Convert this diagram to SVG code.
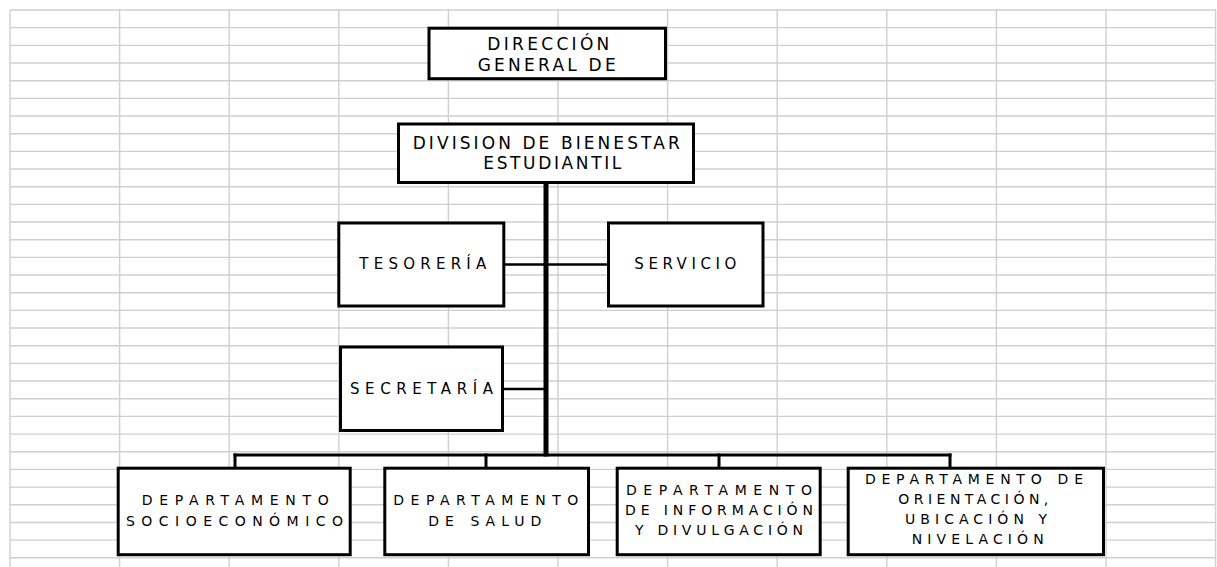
<svg xmlns="http://www.w3.org/2000/svg" width="1217" height="567" viewBox="0 0 1217 567">
<defs>
<style>
.grid line{stroke:#cfcfcf;stroke-width:1.4}
.box{fill:#fff;stroke:#000;stroke-width:3}
.t{font-family:"DejaVu Sans","Liberation Sans",sans-serif;fill:#000}
.big{font-size:17px}
.mid{font-size:15px}
.sm{font-size:14px}
.con line{stroke:#000;stroke-linecap:square}
</style>
</defs>
<rect x="0" y="0" width="1217" height="567" fill="#fff"/>
<g class="grid" id="grid">
<line x1="10" y1="10" x2="10" y2="567"/><line x1="119.6" y1="10" x2="119.6" y2="567"/><line x1="229.2" y1="10" x2="229.2" y2="567"/><line x1="338.8" y1="10" x2="338.8" y2="567"/><line x1="448.4" y1="10" x2="448.4" y2="567"/><line x1="558" y1="10" x2="558" y2="567"/><line x1="667.6" y1="10" x2="667.6" y2="567"/><line x1="777.2" y1="10" x2="777.2" y2="567"/><line x1="886.8" y1="10" x2="886.8" y2="567"/><line x1="996.4" y1="10" x2="996.4" y2="567"/><line x1="1106" y1="10" x2="1106" y2="567"/><line x1="1215.6" y1="10" x2="1215.6" y2="567"/>
<line x1="10" y1="10" x2="1216" y2="10"/><line x1="10" y1="27.67" x2="1216" y2="27.67"/><line x1="10" y1="45.34" x2="1216" y2="45.34"/><line x1="10" y1="63.01" x2="1216" y2="63.01"/><line x1="10" y1="80.68" x2="1216" y2="80.68"/><line x1="10" y1="98.35" x2="1216" y2="98.35"/><line x1="10" y1="116.02" x2="1216" y2="116.02"/><line x1="10" y1="133.69" x2="1216" y2="133.69"/><line x1="10" y1="151.36" x2="1216" y2="151.36"/><line x1="10" y1="169.03" x2="1216" y2="169.03"/><line x1="10" y1="186.7" x2="1216" y2="186.7"/><line x1="10" y1="204.37" x2="1216" y2="204.37"/><line x1="10" y1="222.04" x2="1216" y2="222.04"/><line x1="10" y1="239.71" x2="1216" y2="239.71"/><line x1="10" y1="257.38" x2="1216" y2="257.38"/><line x1="10" y1="275.05" x2="1216" y2="275.05"/><line x1="10" y1="292.72" x2="1216" y2="292.72"/><line x1="10" y1="310.39" x2="1216" y2="310.39"/><line x1="10" y1="328.06" x2="1216" y2="328.06"/><line x1="10" y1="345.73" x2="1216" y2="345.73"/><line x1="10" y1="363.4" x2="1216" y2="363.4"/><line x1="10" y1="381.07" x2="1216" y2="381.07"/><line x1="10" y1="398.74" x2="1216" y2="398.74"/><line x1="10" y1="416.41" x2="1216" y2="416.41"/><line x1="10" y1="434.08" x2="1216" y2="434.08"/><line x1="10" y1="451.75" x2="1216" y2="451.75"/><line x1="10" y1="469.42" x2="1216" y2="469.42"/><line x1="10" y1="487.09" x2="1216" y2="487.09"/><line x1="10" y1="504.76" x2="1216" y2="504.76"/><line x1="10" y1="522.43" x2="1216" y2="522.43"/><line x1="10" y1="540.1" x2="1216" y2="540.1"/><line x1="10" y1="557.77" x2="1216" y2="557.77"/>
</g>
<g class="con" id="connectors">
<line x1="546" y1="184" x2="546" y2="454" stroke-width="5"/>
<line x1="505" y1="264.5" x2="607" y2="264.5" stroke-width="2.5"/>
<line x1="504" y1="389" x2="546" y2="389" stroke-width="2.5"/>
<line x1="235" y1="455" x2="950" y2="455" stroke-width="3"/>
<line x1="235" y1="455" x2="235" y2="467" stroke-width="3"/>
<line x1="486" y1="455" x2="486" y2="467" stroke-width="3"/>
<line x1="719" y1="455" x2="719" y2="467" stroke-width="3"/>
<line x1="950" y1="455" x2="950" y2="467" stroke-width="3"/>
</g>
<g id="direccion">
<rect class="box" x="429" y="28.2" width="236.5" height="50.5" stroke-width="3.5"/>
<text class="t big" x="487.3" y="50" textLength="122" lengthAdjust="spacing">DIRECCIÓN</text>
<text class="t big" x="477.7" y="71" textLength="138" lengthAdjust="spacing">GENERAL DE</text>
</g>
<g id="division">
<rect class="box" x="398.5" y="124" width="295" height="58.5" stroke-width="3.5"/>
<text class="t big" x="412.7" y="148.5" textLength="267" lengthAdjust="spacing">DIVISION DE BIENESTAR</text>
<text class="t big" x="483.3" y="168.5" textLength="138" lengthAdjust="spacing">ESTUDIANTIL</text>
</g>
<g id="tesoreria">
<rect class="box" x="338.8" y="223" width="165" height="83"/>
<text class="t mid" x="359.3" y="269" textLength="127" lengthAdjust="spacing">TESORERÍA</text>
</g>
<g id="servicio">
<rect class="box" x="608.5" y="223" width="154.5" height="83"/>
<text class="t mid" x="634.3" y="269" textLength="102" lengthAdjust="spacing">SERVICIO</text>
</g>
<g id="secretaria">
<rect class="box" x="340.5" y="347" width="162" height="83.5"/>
<text class="t mid" x="350" y="394" textLength="143" lengthAdjust="spacing">SECRETARÍA</text>
</g>
<g id="socioeconomico">
<rect class="box" x="118.2" y="468.2" width="232" height="86.5"/>
<text class="t sm" x="141.7" y="505" textLength="187" lengthAdjust="spacing">DEPARTAMENTO</text>
<text class="t sm" x="126" y="526" textLength="217" lengthAdjust="spacing">SOCIOECONÓMICO</text>
</g>
<g id="salud">
<rect class="box" x="384.8" y="468.2" width="203.7" height="86.5"/>
<text class="t sm" x="393.3" y="505" textLength="185" lengthAdjust="spacing">DEPARTAMENTO</text>
<text class="t sm" x="428.3" y="526" textLength="113" lengthAdjust="spacing">DE SALUD</text>
</g>
<g id="informacion">
<rect class="box" x="617.2" y="468.2" width="203" height="86.5"/>
<text class="t sm" x="626" y="495" textLength="186" lengthAdjust="spacing">DEPARTAMENTO</text>
<text class="t sm" x="625" y="514.5" textLength="188" lengthAdjust="spacing">DE INFORMACIÓN</text>
<text class="t sm" x="635" y="535" textLength="168" lengthAdjust="spacing">Y DIVULGACIÓN</text>
</g>
<g id="orientacion">
<rect class="box" x="848.2" y="468.2" width="255.3" height="86.5"/>
<text class="t sm" x="865" y="484" textLength="218" lengthAdjust="spacing">DEPARTAMENTO DE</text>
<text class="t sm" x="898.3" y="503.5" textLength="150" lengthAdjust="spacing">ORIENTACIÓN,</text>
<text class="t sm" x="905" y="523.5" textLength="142" lengthAdjust="spacing">UBICACIÓN Y</text>
<text class="t sm" x="911.7" y="543.5" textLength="132" lengthAdjust="spacing">NIVELACIÓN</text>
</g>
</svg>
